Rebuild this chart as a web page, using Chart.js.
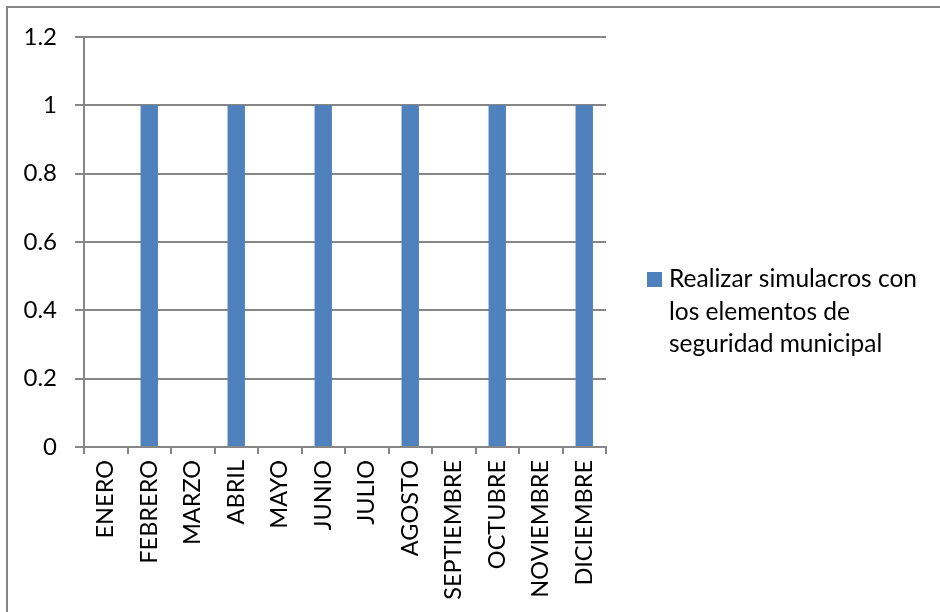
<!DOCTYPE html>
<html>
<head>
<meta charset="utf-8">
<script src="https://cdn.jsdelivr.net/npm/chart.js@4"></script>
<style>
  html, body { margin: 0; padding: 0; background: #fff; }
  #wrap { width: 940px; height: 612px; position: relative; }
</style>
</head>
<body>
<div id="wrap"><canvas id="myChart" width="940" height="612"></canvas></div>
<script>
const months = ['ENERO', 'FEBRERO', 'MARZO', 'ABRIL', 'MAYO', 'JUNIO', 'JULIO',
    'AGOSTO', 'SEPTIEMBRE', 'OCTUBRE', 'NOVIEMBRE', 'DICIEMBRE'];
const simulacros = [0, 1, 0, 1, 0, 1, 0, 1, 0, 1, 0, 1];
const seriesName = 'Realizar simulacros con los elementos de seguridad municipal';
const legendLines = ['Realizar simulacros con', 'los elementos de', 'seguridad municipal'];
const yTicks = [0, 0.2, 0.4, 0.6, 0.8, 1, 1.2];

const grey = '#868686';
const barBlue = '#4F81BD';
const font = 'Lato, Calibri, Carlito, sans-serif';

// outer frame (only top and left edges show in the picture) and legend
const extras = {
    id: 'extras',
    afterDraw(chart) {
        const c = chart.ctx;
        c.save();
        c.strokeStyle = grey;
        c.lineWidth = 2;
        c.beginPath();
        c.moveTo(7, 612);
        c.lineTo(7, 7);
        c.lineTo(940, 7);
        c.stroke();

        c.fillStyle = barBlue;
        c.fillRect(647, 272, 15, 15);
        c.fillStyle = '#000';
        c.font = '24.5px ' + font;
        c.textBaseline = 'alphabetic';
        legendLines.forEach((line, i) => {
            c.fillText(line, 669, 287 + i * 32.5);
        });
        c.restore();
    }
};

const ctx = document.getElementById('myChart');
new Chart(ctx, {
    type: 'bar',
    data: {
        labels: months,
        datasets: [{
            label: seriesName,
            data: simulacros,
            backgroundColor: barBlue,
            categoryPercentage: 1,
            barPercentage: 0.4
        }]
    },
    options: {
        responsive: false,
        animation: false,
        layout: { padding: { left: 18, top: 37, right: 334, bottom: 5 } },
        plugins: { legend: { display: false }, tooltip: { enabled: false } },
        scales: {
            x: {
                grid: { offset: true, drawOnChartArea: false, color: grey, lineWidth: 2, tickLength: 7 },
                border: { color: grey, width: 2 },
                ticks: {
                    color: '#000',
                    font: { family: font, size: 23.5 },
                    minRotation: 90, maxRotation: 90,
                    padding: 6
                },
                afterFit(scale) { scale.height = 160; }
            },
            y: {
                min: 0, max: 1.2,
                afterBuildTicks(scale) { scale.ticks = yTicks.map(v => ({ value: v })); },
                grid: { color: grey, lineWidth: 2, tickLength: 9 },
                border: { color: grey, width: 2 },
                ticks: {
                    color: '#000',
                    font: { family: font, size: 24 },
                    padding: 18,
                    callback: v => String(v)
                },
                afterFit(scale) { scale.width = 66; }
            }
        }
    },
    plugins: [extras]
});
</script>
</body>
</html>
